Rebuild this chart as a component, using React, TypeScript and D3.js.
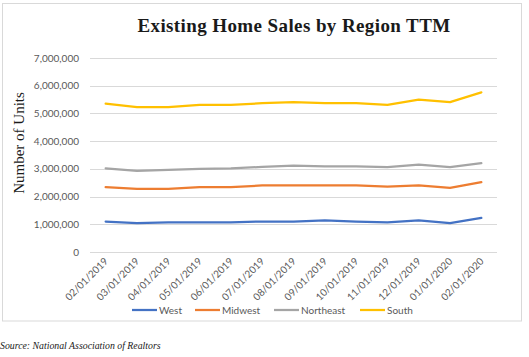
import React from "react";
import * as d3 from "d3";

const categories = ["02/01/2019","03/01/2019","04/01/2019","05/01/2019","06/01/2019","07/01/2019","08/01/2019","09/01/2019","10/01/2019","11/01/2019","12/01/2019","01/01/2020","02/01/2020"];
const west = [1100000,1040000,1070000,1070000,1070000,1100000,1100000,1140000,1100000,1070000,1140000,1040000,1230000];
const midwest = [2340000,2280000,2280000,2340000,2340000,2400000,2400000,2400000,2400000,2360000,2400000,2310000,2520000];
const northeast = [3020000,2930000,2960000,3000000,3020000,3070000,3120000,3090000,3090000,3060000,3150000,3060000,3210000];
const south = [5350000,5230000,5230000,5310000,5310000,5370000,5410000,5370000,5370000,5310000,5500000,5410000,5760000];
const seriesNames = ["West","Midwest","Northeast","South"];
const seriesColors = ["#4472C4","#ED7D31","#A5A5A5","#FFC000"];
const yTicks = [0,1000000,2000000,3000000,4000000,5000000,6000000,7000000];

export default function App() {
  const W = 529, H = 357;
  const left = 90, right = 497, top = 58, bottom = 252;
  const x = d3.scaleBand<string>().domain(categories).range([left, right]);
  const y = d3.scaleLinear().domain([0, 7000000]).range([bottom, top]);
  const data = [west, midwest, northeast, south];
  const line = d3.line<number>()
    .x((_, i) => (x(categories[i]) as number) + x.bandwidth() / 2)
    .y((d) => y(d));
  const fmt = d3.format(",");
  const legendX = [132, 195, 274, 360];
  const tickFont = "Lato, 'Open Sans', sans-serif";
  return (
    <svg width={W} height={H} style={{ position: "absolute", left: 0, top: 0, background: "#fff" }}>
      <rect x={2.5} y={3.5} width={519} height={317.5} fill="#fff" stroke="#d9d9d9" strokeWidth={1} />
      <text x={294} y={32} textAnchor="middle" fontFamily="'Liberation Serif', serif" fontWeight="bold" fontSize={19} letterSpacing={0.4} fill="#1a1a1a">Existing Home Sales by Region TTM</text>
      {yTicks.map((t) => (
        <g key={t}>
          <line x1={left} x2={right} y1={Math.round(y(t)) + 0.5} y2={Math.round(y(t)) + 0.5} stroke="#d9d9d9" strokeWidth={1} />
          <text x={79} y={y(t) + 3.5} textAnchor="end" fontFamily={tickFont} fontSize={10} fill="#595959">{fmt(t)}</text>
        </g>
      ))}
      <text transform={`translate(24,143) rotate(-90)`} textAnchor="middle" fontFamily="'Liberation Serif', serif" fontSize={15} fill="#1a1a1a">Number of Units</text>
      {categories.map((c) => {
        const cx = (x(c) as number) + x.bandwidth() / 2 + 3;
        return (
          <text key={c} transform={`translate(${cx},262) rotate(-45)`} textAnchor="end" fontFamily={tickFont} fontSize={10} fill="#595959">{c}</text>
        );
      })}
      {data.map((s, i) => (
        <path key={seriesNames[i]} d={line(s) || ""} fill="none" stroke={seriesColors[i]} strokeWidth={2.25} strokeLinejoin="round" strokeLinecap="round" />
      ))}
      {seriesNames.map((n, i) => (
        <g key={n}>
          <line x1={legendX[i]} x2={legendX[i] + 25} y1={310} y2={310} stroke={seriesColors[i]} strokeWidth={2.25} />
          <text x={legendX[i] + 27} y={313.5} fontFamily={tickFont} fontSize={10} fill="#595959">{n}</text>
        </g>
      ))}
      <text x={0} y={349} fontFamily="'Liberation Serif', serif" fontStyle="italic" fontSize={9.8} fill="#1a1a1a">Source: National Association of Realtors</text>
    </svg>
  );
}
